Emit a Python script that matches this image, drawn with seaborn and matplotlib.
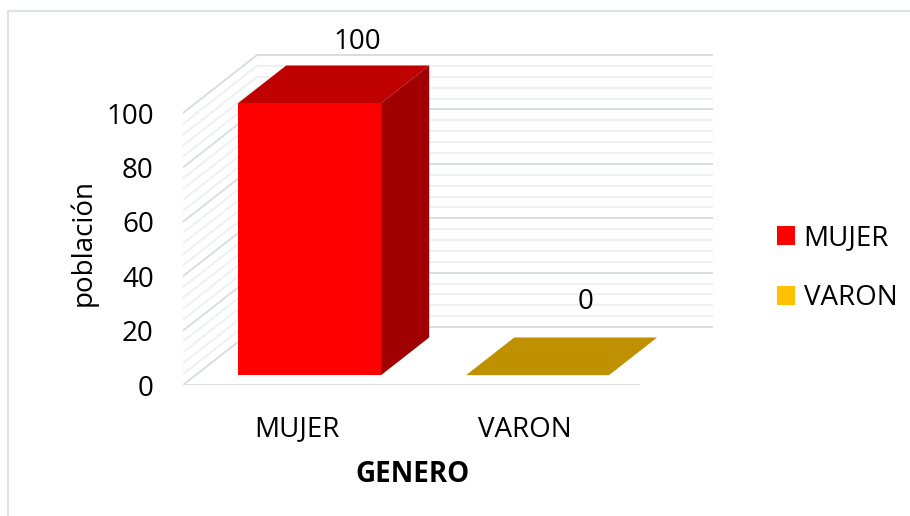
import matplotlib
matplotlib.use('Agg')
import matplotlib.pyplot as plt
import matplotlib.colors as mcolors
from matplotlib.patches import Polygon, Patch
from matplotlib.lines import Line2D
import numpy as np
import pandas as pd
import seaborn as sns

# data
categorias = ['MUJER', 'VARON']
poblacion = [100, 0]
colores = ['#FF0000', '#FFC000']
yticks = [0, 20, 40, 60, 80, 100]

sns.set_style('white')
plt.rcParams['font.family'] = ['Open Sans', 'DejaVu Sans']
for k in ['text.color', 'axes.labelcolor', 'xtick.color', 'ytick.color']:
    plt.rcParams[k] = 'black'
FS = 20

# fake 3d: depth of the floor in data units, bars sit between depth f0 and f1
DX = 0.3246
DY = 21.3
f0, f1 = 0.17, 0.82
ancho = 0.627

def shade(c, k):
    r, g, b = mcolors.to_rgb(c)
    return (r * k, g * k, b * k)

fig = plt.figure(figsize=(9.1, 5.16), dpi=100)
ax = fig.add_axes([183 / 910, 131 / 516, 530 / 910, 355 / 516])

df = pd.DataFrame({'GENERO': categorias, 'poblacion': poblacion})
sns.barplot(data=df, x='GENERO', y='poblacion', hue='GENERO', palette=colores,
            saturation=1, width=ancho, bottom=f0 * DY, errorbar=None, legend=False,
            linewidth=0, ax=ax, zorder=3)

# walls (back + left side) with gridlines every 4
for v in np.arange(0, 101, 4):
    col = '#d9dde4' if v % 20 == 0 else '#eff0f2'
    ax.plot([-0.5 + DX, 1.5 + DX], [v + DY, v + DY], color=col, lw=1.4, zorder=1)
    ax.plot([-0.5, -0.5 + DX], [v, v + DY], color=col, lw=1.4, zorder=1)
ax.plot([-0.5, 1.5], [0, 0], color='#d9dde4', lw=1.4, zorder=1)

# push bars back a little and add top / side faces
bx, by = (f1 - f0) * DX, (f1 - f0) * DY
for p, c, v in zip(ax.patches, colores, poblacion):
    p.set_x(p.get_x() + f0 * DX)
    x0 = p.get_x()
    x1 = x0 + p.get_width()
    y0 = p.get_y()
    y1 = y0 + p.get_height()
    ax.add_patch(Polygon([(x0, y1), (x1, y1), (x1 + bx, y1 + by), (x0 + bx, y1 + by)],
                         closed=True, fc=shade(c, 0.75), lw=0, zorder=4))
    if p.get_height() > 0:
        ax.add_patch(Polygon([(x1, y0), (x1 + bx, y0 + by), (x1 + bx, y1 + by), (x1, y1)],
                             closed=True, fc=shade(c, 0.63), lw=0, zorder=4))
    ax.text(x0 + p.get_width() / 2 + bx, min(y1 + by + 13, 126), str(v),
            ha='center', va='center', fontsize=FS, color='black', zorder=5)

ax.set_xlim(-0.5, 1.5 + DX)
ax.set_ylim(0, 355 / 2.72)
ax.set_yticks(yticks)
ax.set_yticklabels([str(t) for t in yticks])
ax.tick_params(axis='y', length=0, pad=21, labelsize=FS)
ax.tick_params(axis='x', length=0, pad=22, labelsize=FS)
for s in ax.spines.values():
    s.set_visible(False)

ax.set_xlabel('GENERO', fontweight='bold', fontsize=FS, va='center')
ax.xaxis.set_label_coords((412 - 183) / 530, (385 - 475) / 355)
ax.set_ylabel('población', fontsize=FS, va='center', ha='center')
ax.yaxis.set_label_coords((83 - 183) / 530, (385 - 242) / 355)

handles = [Patch(fc=c, lw=0) for c in colores]
fig.legend(handles, categorias, loc='center left', bbox_to_anchor=(752 / 910, 1 - 268 / 516),
           frameon=False, fontsize=FS, handlelength=0.66, handleheight=0.66,
           handletextpad=0.3, labelspacing=1.15)

# chart area border (only left and top visible)
bc = '#dde1e8'
fig.add_artist(Line2D([8 / 910, 8 / 910], [0, 1 - 11 / 516], transform=fig.transFigure, color=bc, lw=1.5))
fig.add_artist(Line2D([8 / 910, 1], [1 - 11 / 516, 1 - 11 / 516], transform=fig.transFigure, color=bc, lw=1.5))

fig.savefig('out.png', dpi=100)
